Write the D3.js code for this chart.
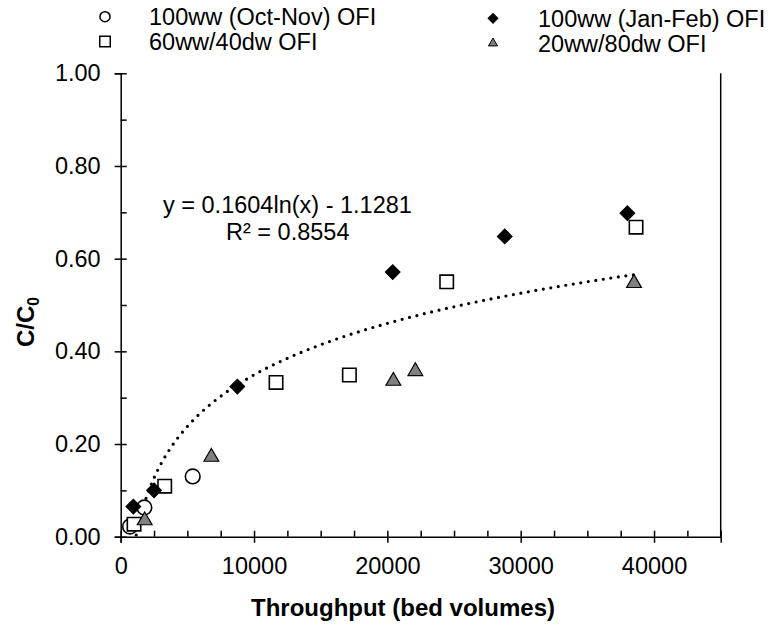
<!DOCTYPE html>
<html>
<head>
<meta charset="utf-8">
<script src="https://cdn.jsdelivr.net/npm/d3@7/dist/d3.min.js"></script>
<style>
  html, body { margin: 0; padding: 0; background: #fff; }
  text { font-family: "Liberation Sans", Arial, sans-serif; fill: #000; }
</style>
</head>
<body>
<svg id="chart" width="769" height="627"></svg>
<script>
// ---- data ----
const seriesNames = ["100ww (Oct-Nov) OFI", "100ww (Jan-Feb) OFI", "60ww/40dw OFI", "20ww/80dw OFI"];
const octNovX = [700, 1770, 5400];
const octNovY = [0.022, 0.063, 0.130];
const janFebX = [950, 2500, 8750, 20400, 28800, 38000];
const janFebY = [0.065, 0.100, 0.324, 0.571, 0.648, 0.698];
const mix6040X = [1000, 3300, 11650, 17150, 24450, 38650];
const mix6040Y = [0.027, 0.109, 0.333, 0.349, 0.550, 0.668];
const mix2080X = [1800, 6800, 20450, 22100, 38500];
const mix2080Y = [0.035, 0.172, 0.336, 0.357, 0.547];
const trendA = 0.1604, trendB = -1.1281;
const trendXRange = [700, 38650];
const xTicks = [0, 10000, 20000, 30000, 40000];
const xMinorTicks = [2500, 5000, 7500, 12500, 15000, 17500, 22500, 25000, 27500, 32500, 35000, 37500, 42500, 45000];
const yTicks = [0, 0.2, 0.4, 0.6, 0.8, 1.0];
const yMinorTicks = [0.1, 0.3, 0.5, 0.7, 0.9];
const eqLine1 = "y = 0.1604ln(x) - 1.1281";
const eqLine2 = "R² = 0.8554";

// ---- layout ----
const svg = d3.select("#chart");
const x = d3.scaleLinear().domain([0, 45000]).range([120.7, 720.7]);
const y = d3.scaleLinear().domain([0, 1]).range([536.7, 73.3]);
const FS = 23.5;
const TFS = 24;

svg.append("rect").attr("width", 769).attr("height", 627).attr("fill", "#fff");

svg.append("clipPath").attr("id", "plotclip").append("rect")
  .attr("x", x(0)).attr("y", y(1)).attr("width", x(45000) - x(0)).attr("height", y(0) - y(1));

// right border line
svg.append("line").attr("x1", x(45000)).attr("x2", x(45000)).attr("y1", y(1)).attr("y2", y(0))
  .attr("stroke", "#000").attr("stroke-width", 1.5);

// Y axis
svg.append("g").attr("transform", `translate(${x(0)},0)`)
  .call(d3.axisLeft(y).tickValues(yTicks).tickSize(6).tickPadding(14).tickFormat(d3.format(".2f")));
svg.append("g").attr("transform", `translate(${x(0)},0)`)
  .call(d3.axisRight(y).tickValues(yTicks.concat(yMinorTicks)).tickSize(6).tickFormat(""))
  .call(g => g.select(".domain").remove());
// X axis
svg.append("g").attr("transform", `translate(0,${y(0)})`)
  .call(d3.axisBottom(x).tickValues(xTicks).tickSize(6).tickPadding(15).tickFormat(d3.format("d")));
svg.append("g").attr("transform", `translate(0,${y(0)})`)
  .call(d3.axisTop(x).tickValues(xTicks.concat(xMinorTicks)).tickSize(6).tickFormat(""))
  .call(g => g.select(".domain").remove());

svg.selectAll(".domain").attr("stroke", "#000").attr("stroke-width", 1.5);
svg.selectAll(".tick line").attr("stroke", "#000").attr("stroke-width", 1.5);
svg.selectAll(".tick text").attr("font-size", FS).attr("font-family", "Liberation Sans, Arial, sans-serif").attr("fill", "#000");

// Axis titles
svg.append("text").attr("x", 403).attr("y", 616).attr("text-anchor", "middle")
  .attr("font-size", TFS).attr("font-weight", "bold").text("Throughput (bed volumes)");
const yt = svg.append("text").attr("transform", "translate(34,322) rotate(-90)")
  .attr("text-anchor", "middle").attr("font-size", TFS).attr("font-weight", "bold");
yt.append("tspan").text("C/C");
yt.append("tspan").attr("font-size", TFS * 0.65).attr("dy", 5).text("0");

// Trendline
const trendPts = d3.range(0, 401).map(i => {
  const xv = trendXRange[0] + (trendXRange[1] - trendXRange[0]) * i / 400;
  return [xv, trendA * Math.log(xv) + trendB];
});
svg.append("path").attr("clip-path", "url(#plotclip)")
  .attr("d", d3.line().x(d => x(d[0])).y(d => y(d[1]))(trendPts))
  .attr("fill", "none").attr("stroke", "#000").attr("stroke-width", 3.2)
  .attr("stroke-linecap", "round").attr("stroke-dasharray", "0 7.6");

// markers
const sym = {
  circle: s => d3.symbol().type(d3.symbolCircle).size(s)(),
  square: s => d3.symbol().type(d3.symbolSquare).size(s)(),
  diamond: s => d3.symbol().type(d3.symbolSquare).size(s)(),
  triangle: s => d3.symbol().type(d3.symbolTriangle).size(s)()
};
function drawSeries(xs, ys, kind, size, fill, stroke, sw) {
  const g = svg.append("g");
  g.selectAll("path").data(xs.map((d, i) => [d, ys[i]])).join("path")
    .attr("d", sym[kind](size))
    .attr("transform", d => `translate(${x(d[0])},${y(d[1])})` + (kind === "diamond" ? " rotate(45)" : ""))
    .attr("fill", fill).attr("stroke", stroke).attr("stroke-width", sw);
}
drawSeries(octNovX, octNovY, "circle", 170, "#fff", "#000", 1.6);
drawSeries(mix6040X, mix6040Y, "square", 180, "#fff", "#000", 1.6);
drawSeries(mix2080X, mix2080Y, "triangle", 95, "#808080", "#000", 1.2);
drawSeries(janFebX, janFebY, "diamond", 110, "#000", "#000", 1);

// equation
svg.append("text").attr("x", 163).attr("y", 213).attr("font-size", FS).text(eqLine1);
svg.append("text").attr("x", 226).attr("y", 240).attr("font-size", FS).text(eqLine2);

// legend
const legend = [
  {name: seriesNames[0], kind: "circle", size: 80, fill: "#fff", stroke: "#000", mx: 105, my: 16.7, tx: 149},
  {name: seriesNames[1], kind: "diamond", size: 42, fill: "#000", stroke: "#000", mx: 493, my: 18.3, tx: 538},
  {name: seriesNames[2], kind: "square", size: 110, fill: "#fff", stroke: "#000", mx: 105, my: 41.5, tx: 149},
  {name: seriesNames[3], kind: "triangle", size: 36, fill: "#808080", stroke: "#000", mx: 493, my: 43.3, tx: 538}
];
legend.forEach(l => {
  svg.append("path").attr("d", sym[l.kind](l.size))
    .attr("transform", `translate(${l.mx},${l.my})` + (l.kind === "diamond" ? " rotate(45)" : ""))
    .attr("fill", l.fill).attr("stroke", l.stroke).attr("stroke-width", l.kind === "triangle" ? 1 : 1.5);
  svg.append("text").attr("x", l.tx).attr("y", l.my).attr("dy", "0.35em")
    .attr("font-size", FS).text(l.name);
});
</script>
</body>
</html>
